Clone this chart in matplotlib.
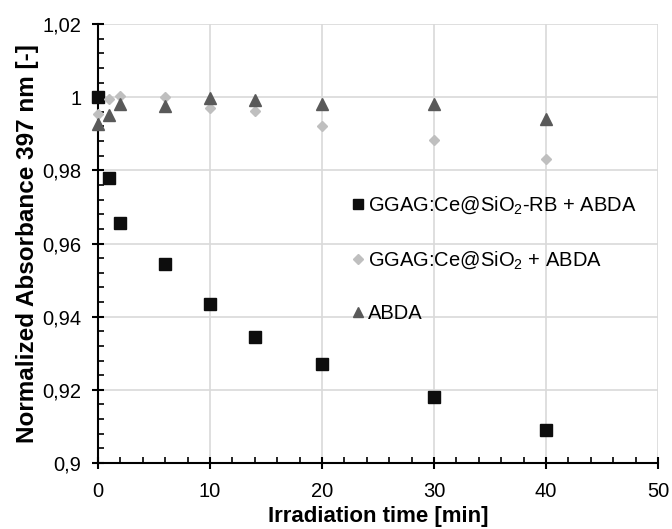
import matplotlib.pyplot as plt
from matplotlib.ticker import MultipleLocator, FuncFormatter

plt.rcParams['font.family'] = ['Liberation Sans', 'DejaVu Sans']
plt.rcParams['mathtext.default'] = 'regular'

# irradiation time [min]
time = [0, 1, 2, 6, 10, 14, 20, 30, 40]

# normalized absorbance at 397 nm
rb_abda = [1.0, 0.978, 0.9655, 0.9545, 0.9435, 0.9345, 0.927, 0.918, 0.909]
sio2_abda = [0.9953, 0.9996, 1.0002, 1.0, 0.997, 0.9963, 0.992, 0.9884, 0.9832]
abda = [0.9928, 0.995, 0.998, 0.9976, 0.9997, 0.9991, 0.998, 0.998, 0.994]

labels = ['GGAG:Ce@SiO$_2$-RB + ABDA', 'GGAG:Ce@SiO$_2$ + ABDA', 'ABDA']

fig = plt.figure(figsize=(6.72, 5.29), dpi=100)
ax = fig.add_axes([98 / 672, 66 / 529, 560 / 672, 439 / 529])

ax.plot(time, rb_abda, 's', color='#0d0d0d', markersize=8.5, label=labels[0], zorder=3, clip_on=False)
ax.plot(time, sio2_abda, 'D', color='#bfbfbf', markersize=5.4, label=labels[1], zorder=3, clip_on=False)
ax.plot(time, abda, '^', color='#595959', markersize=8, label=labels[2], zorder=3, clip_on=False)

ax.set_xlim(0, 50)
ax.set_ylim(0.9, 1.02)
ax.xaxis.set_major_locator(MultipleLocator(10))
ax.xaxis.set_minor_locator(MultipleLocator(2))
ax.yaxis.set_major_locator(MultipleLocator(0.02))
ax.yaxis.set_minor_locator(MultipleLocator(0.004))
ax.yaxis.set_major_formatter(FuncFormatter(lambda v, p: f'{round(v, 3):g}'.replace('.', ',')))

ax.grid(True, which='major', color='#d9d9d9', linewidth=1.2)
ax.set_axisbelow(True)
for s in ['top', 'right']:
    ax.spines[s].set_visible(False)
for s in ['left', 'bottom']:
    ax.spines[s].set_linewidth(1.5)
    ax.spines[s].set_color('black')

ax.tick_params(which='major', direction='inout', length=8, width=1.5, labelsize=14.5, colors='black')
ax.tick_params(which='minor', direction='in', length=4, width=1.2)
ax.tick_params(axis='y', which='major', pad=8)
ax.tick_params(axis='x', which='major', pad=10)

ax.set_xlabel('Irradiation time [min]', fontsize=16, fontweight='bold', labelpad=3)
ax.set_ylabel('Normalized Absorbance 397 nm [-]', fontsize=17.5, fontweight='bold', labelpad=2)

ax.legend(loc='upper left', bbox_to_anchor=(0.4536, 0.611), frameon=False, fontsize=14.5,
          labelspacing=1.64, handlelength=0.6, handletextpad=0.18, borderpad=0,
          borderaxespad=0, markerscale=0.85)

fig.savefig('out.png', dpi=100)
